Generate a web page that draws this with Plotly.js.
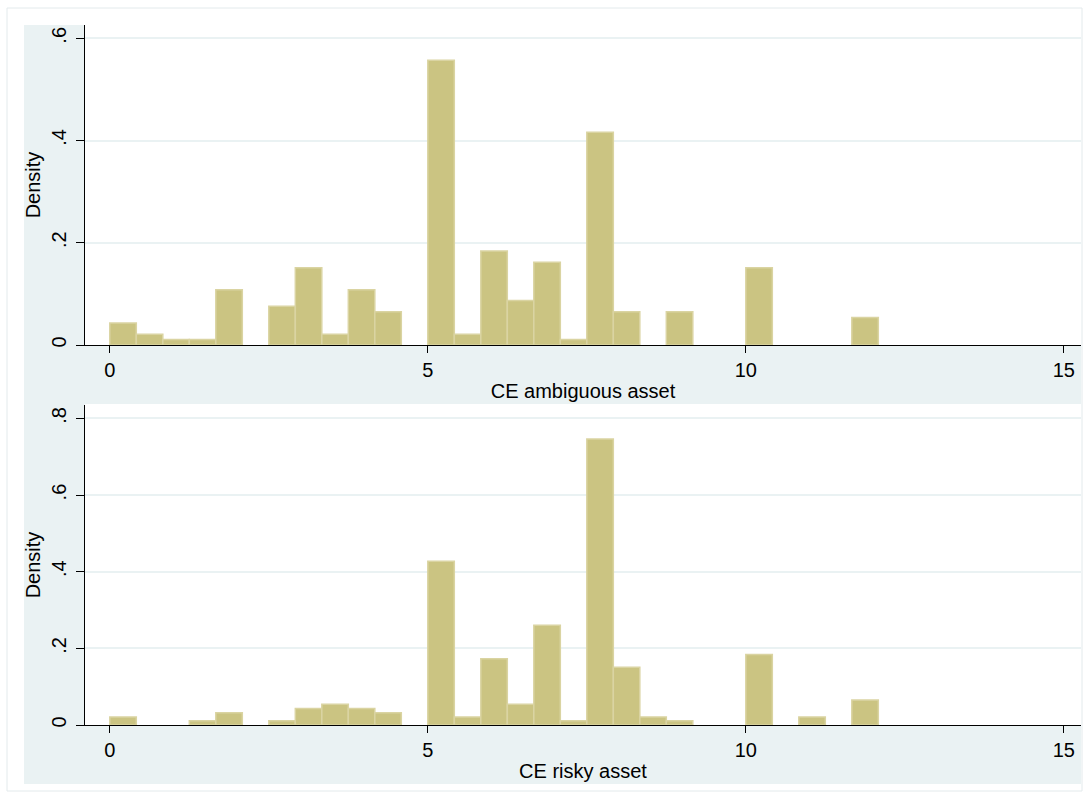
<!DOCTYPE html>
<html>
<head>
<meta charset="utf-8">
<script src="https://cdn.plot.ly/plotly-3.0.1.min.js"></script>
<style>html,body{margin:0;padding:0;background:#fff;} #chart{width:1088px;height:798px;}</style>
</head>
<body>
<div id="chart"></div>
<script>
// Bin layout of the histograms (Stata: start 0, width 5/12)
const binStart = 0;
const binWidth = 5 / 12;

// Density per bin, CE ambiguous asset
const ambiguousDensity = [0.043, 0.021, 0.011, 0.011, 0.108, 0, 0.076, 0.151, 0.021, 0.108,
  0.065, 0, 0.557, 0.021, 0.184, 0.087, 0.162, 0.011, 0.416, 0.065,
  0, 0.065, 0, 0, 0.151, 0, 0, 0, 0.054];

// Density per bin, CE risky asset
const riskyDensity = [0.021, 0, 0, 0.011, 0.032, 0, 0.011, 0.043, 0.054, 0.043,
  0.032, 0, 0.427, 0.021, 0.173, 0.054, 0.260, 0.011, 0.746, 0.151,
  0.021, 0.011, 0, 0, 0.184, 0, 0.021, 0, 0.065];

const xTickVals = [0, 5, 10, 15];
const xTickText = ["0", "5", "10", "15"];
const yTickValsTop = [0, 0.2, 0.4, 0.6];
const yTickTextTop = ["0", ".2", ".4", ".6"];
const yTickValsBottom = [0, 0.2, 0.4, 0.6, 0.8];
const yTickTextBottom = ["0", ".2", ".4", ".6", ".8"];
const xTitleTop = "CE ambiguous asset";
const xTitleBottom = "CE risky asset";
const yTitle = "Density";

const centers = ambiguousDensity.map((_, k) => binStart + binWidth * (k + 0.5));

const W = 1088, H = 798;
const mL = 85, mR = 7, mT = 25, mB = 73;
const pw = W - mL - mR, ph = H - mT - mB;
const px = x => (x - mL) / pw;
const py = y => (H - mB - y) / ph;

const fill = 'rgb(203,196,130)';
const edge = 'rgb(218,212,162)';
const bluish = '#EAF2F3';
const font = "'Liberation Sans', Arial, Helvetica, sans-serif";
const fs = 20;

function barTrace(vals, xa, ya) {
  return {
    type: 'bar', x: centers, y: vals, width: binWidth,
    xaxis: xa, yaxis: ya,
    marker: {color: fill, line: {color: edge, width: vals.map(v => v > 0 ? 1.5 : 0)}},
    hoverinfo: 'x+y', showlegend: false
  };
}

const data = [barTrace(ambiguousDensity, 'x', 'y'), barTrace(riskyDensity, 'x2', 'y2')];

function xAxis(title, anchor) {
  return {
    domain: [0, 1], anchor: anchor, range: [-0.39, 15.27],
    tickmode: 'array', tickvals: xTickVals, ticktext: xTickText,
    ticks: 'outside', ticklen: 7, tickwidth: 1, tickcolor: '#000',
    showline: true, linecolor: '#000', linewidth: 1,
    showgrid: false, zeroline: false,
    tickfont: {family: font, size: fs, color: '#000'},
    title: {text: title, font: {family: font, size: fs, color: '#000'}, standoff: 3},
    fixedrange: true
  };
}
function yAxis(range, tv, tt, anchor, domain) {
  return {
    domain: domain, anchor: anchor, range: range,
    tickmode: 'array', tickvals: tv, ticktext: tt, tickangle: -90,
    ticks: 'outside', ticklen: 8, tickwidth: 1, tickcolor: '#000',
    ticklabelstandoff: 2,
    showline: true, linecolor: '#000', linewidth: 1,
    showgrid: true, gridcolor: bluish, gridwidth: 2, zeroline: false,
    tickfont: {family: font, size: fs, color: '#000'},
    title: {text: yTitle, font: {family: font, size: fs, color: '#000'}, standoff: 2},
    fixedrange: true
  };
}

const shapes = [
  // outer frame
  {type: 'rect', xref: 'paper', yref: 'paper', x0: px(7), x1: px(1082), y0: py(8), y1: py(791),
   line: {color: '#E3EAEC', width: 1}, fillcolor: 'rgba(0,0,0,0)', layer: 'below'},
  // left strip
  {type: 'rect', xref: 'paper', yref: 'paper', x0: px(24), x1: px(85), y0: py(25), y1: py(784),
   line: {width: 0}, fillcolor: bluish, layer: 'below'},
  // below top plot
  {type: 'rect', xref: 'paper', yref: 'paper', x0: px(85), x1: px(1081), y0: py(345), y1: py(404),
   line: {width: 0}, fillcolor: bluish, layer: 'below'},
  // below bottom plot
  {type: 'rect', xref: 'paper', yref: 'paper', x0: px(85), x1: px(1081), y0: py(725), y1: py(784),
   line: {width: 0}, fillcolor: bluish, layer: 'below'}
];

const layout = {
  width: W, height: H,
  margin: {l: mL, r: mR, t: mT, b: mB, pad: 0},
  paper_bgcolor: '#fff', plot_bgcolor: '#fff',
  bargap: 0, showlegend: false,
  xaxis: xAxis(xTitleTop, 'y'),
  yaxis: yAxis([0, 0.626], yTickValsTop, yTickTextTop, 'x', [py(345), 1]),
  xaxis2: xAxis(xTitleBottom, 'y2'),
  yaxis2: yAxis([0, 0.835], yTickValsBottom, yTickTextBottom, 'x2', [0, py(405)]),
  shapes: shapes
};

Plotly.newPlot('chart', data, layout, {displayModeBar: false, staticPlot: true});
</script>
</body>
</html>
